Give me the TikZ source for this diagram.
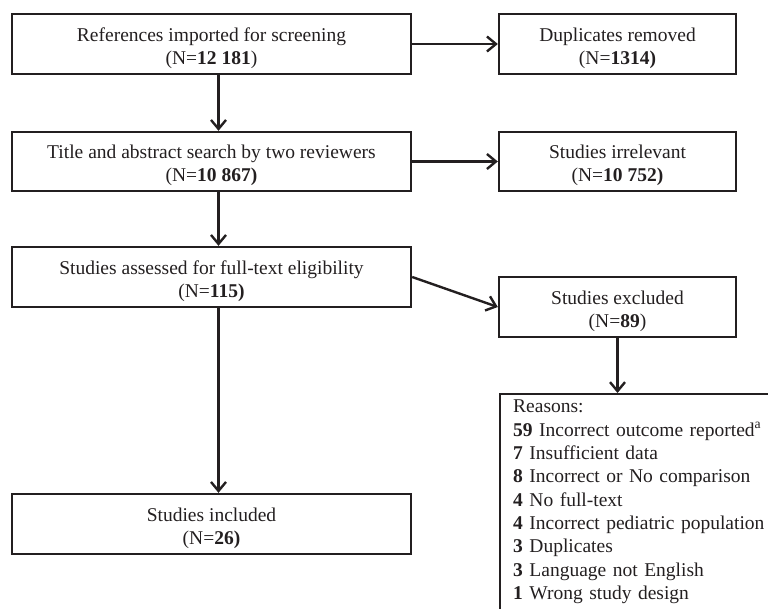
\documentclass[tikz,border=0pt]{standalone}
\usepackage{fontspec}
\setmainfont{Liberation Serif}
\usetikzlibrary{arrows.meta,positioning}
\definecolor{flowink}{HTML}{231F20}
\newcommand{\lift}{\rule{0pt}{22pt}}

\begin{document}
\begin{tikzpicture}[
  x=1pt,y=-1pt,
  box/.style={draw=flowink,line width=2.4pt,minimum height=60pt,inner sep=0pt,align=center,
    text=flowink,font=\fontsize{19.5}{23}\selectfont},
  wide/.style={box,minimum width=399pt},
  narrow/.style={box,minimum width=237pt},
  arr/.style={-{Straight Barb[length=9pt,width=15pt]},line width=2.4pt,draw=flowink}
]
\useasboundingbox (0,0) rectangle (768,608);
\clip (0,0) rectangle (768,608);
\node[wide] (refs) at (211.5,44) {\lift References imported for screening\\(N=\textbf{12 181})};
\node[narrow] (dup) at (617.5,44) {\lift Duplicates removed\\(N=\textbf{1314)}};
\node[wide,minimum height=59pt] (title) at (211.5,161.5) {\lift Title and abstract search by two reviewers\\(N=\textbf{10 867)}};
\node[narrow,minimum height=59pt] (irrel) at (617.5,161.5) {\lift Studies irrelevant\\(N=\textbf{10 752)}};
\node[wide] (assess) at (211.5,277) {\lift Studies assessed for full-text eligibility\\(N=\textbf{115)}};
\node[narrow] (excl) at (617.5,307) {\lift Studies excluded\\(N=\textbf{89})};
\node[wide] (incl) at (211.5,524) {\lift Studies included\\(N=\textbf{26)}};
\node[draw=flowink,line width=2.4pt,anchor=north west,text width=300pt,
  inner xsep=13pt,inner ysep=6pt,align=left,text=flowink,font=\fontsize{19.5}{23.3}\selectfont]
  (reasons) at (499,393) {Reasons:\\
  \textbf{59} Incorrect outcome reported\textsuperscript{a}\\
  \textbf{7} Insufficient data\\
  \textbf{8} Incorrect or No comparison\\
  \textbf{4} No full-text\\
  \textbf{4} Incorrect pediatric population\\
  \textbf{3} Duplicates\\
  \textbf{3} Language not English\\
  \textbf{1} Wrong study design\rule[-14pt]{0pt}{14pt}};
\draw[arr] (refs)--(dup);
\draw[arr] (title)--(irrel);
\draw[arr] (assess.east)--(excl.west);
\draw[arr] ([xshift=7pt]refs.south)--([xshift=7pt]refs.south |- title.north);
\draw[arr] ([xshift=7pt]title.south)--([xshift=7pt]title.south |- assess.north);
\draw[arr] ([xshift=7pt]assess.south)--([xshift=7pt]assess.south |- incl.north);
\draw[arr] (excl.south)--(excl.south |- reasons.north);
\end{tikzpicture}
\end{document}
